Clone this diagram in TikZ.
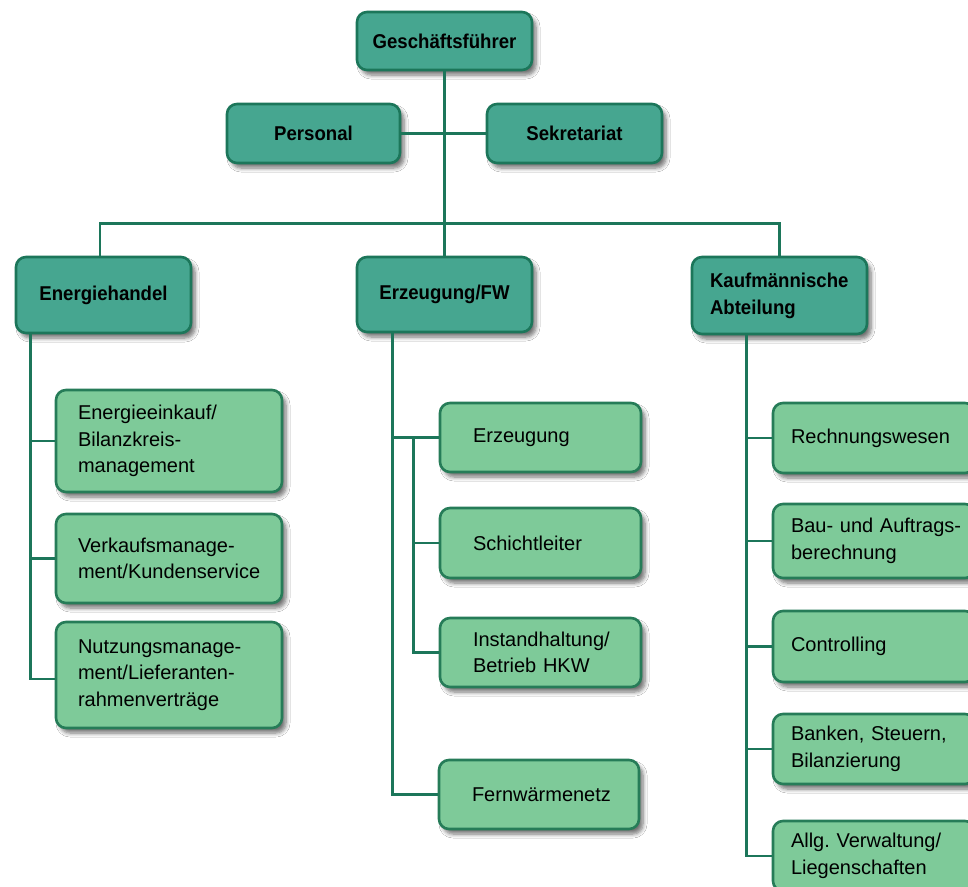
\documentclass[tikz,border=0pt]{standalone}
\usepackage{fontspec}
\setmainfont{Liberation Sans}
\newfontfamily\hdfont{Liberation Sans}[FakeStretch=0.93]
\usetikzlibrary{shadows.blur,calc}
\definecolor{darkfill}{RGB}{70,166,144}
\definecolor{darkline}{RGB}{28,118,90}
\definecolor{lightfill}{RGB}{126,202,153}
\definecolor{lightline}{RGB}{38,124,88}
\definecolor{connc}{RGB}{28,118,90}
\begin{document}
\begin{tikzpicture}[x=1pt,y=-1pt,
 boxbase/.style={rounded corners=10pt, line width=2.6pt, inner sep=0pt,
   blur shadow={shadow xshift=4pt, shadow yshift=-5pt, shadow blur steps=6, shadow opacity=55, shadow blur radius=4pt}},
 headbox/.style={boxbase, draw=darkline, fill=darkfill, font=\hdfont\bfseries\fontsize{20}{27}\selectfont\frenchspacing, align=center},
 subbox/.style={boxbase, draw=lightline, fill=lightfill, font=\fontsize{20}{26.5}\selectfont\frenchspacing, align=left},
 conn/.style={draw=connc, line width=2.8pt},
]
\useasboundingbox (0,0) rectangle (968,886);
\fill[white] (0,0) rectangle (968,886);
\clip (0,0) rectangle (968,886);

% top level
\node[headbox, minimum width=175pt, minimum height=58pt] (gf) at (444.5,41) {Geschäftsführer};
\node[headbox, minimum width=173pt, minimum height=59pt] (pers) at (313.5,133.5) {Personal};
\node[headbox, minimum width=175pt, minimum height=59pt] (sek) at (574.5,133.5) {Sekretariat};
\node[headbox, minimum width=175pt, minimum height=76pt] (eh) at (103.5,295) {Energiehandel};
\node[headbox, minimum width=175pt, minimum height=75pt] (efw) at (444.5,294.5) {Erzeugung/FW};
\node[headbox, minimum width=175pt, minimum height=77pt, align=left, text width=139pt, inner xsep=18pt] (ka) at (779.5,295.5) {\mbox{Kaufmännische}\\Abteilung};

% left column
\node[subbox, minimum width=226pt, text width=182pt, inner xsep=22pt, minimum height=102pt] (e1) at (169,441) {Energieeinkauf/\\Bilanzkreis-\\management};
\node[subbox, minimum width=226pt, text width=182pt, inner xsep=22pt, minimum height=89pt] (e2) at (169,558.5) {Verkaufsmanage-\\ment/Kundenservice};
\node[subbox, minimum width=226pt, text width=182pt, inner xsep=22pt, minimum height=106pt] (e3) at (169,675) {Nutzungsmanage-\\ment/Lieferanten-\\rahmenverträge};

% middle column
\node[subbox, minimum width=201pt, text width=135pt, inner xsep=33pt, minimum height=69pt] (m1) at (540.5,437.5) {Erzeugung};
\node[subbox, minimum width=201pt, text width=135pt, inner xsep=33pt, minimum height=70pt] (m2) at (540.5,543) {Schichtleiter};
\node[subbox, minimum width=201pt, text width=135pt, inner xsep=33pt, minimum height=69pt] (m3) at (540.5,652.5) {\mbox{Instandhaltung/}\\Betrieb HKW};
\node[subbox, minimum width=200pt, text width=134pt, inner xsep=33pt, minimum height=69pt] (m4) at (539,794.5) {Fernwärmenetz};

% right column
\node[subbox, minimum width=202pt, text width=166pt, inner xsep=18pt, minimum height=70pt] (r1) at (874,438) {Rechnungswesen};
\node[subbox, minimum width=202pt, text width=166pt, inner xsep=18pt, minimum height=74pt] (r2) at (874,541) {\mbox{Bau- und Auftrags-}\\berechnung};
\node[subbox, minimum width=202pt, text width=166pt, inner xsep=18pt, minimum height=71pt] (r3) at (874,646.5) {Controlling};
\node[subbox, minimum width=202pt, text width=166pt, inner xsep=18pt, minimum height=70pt] (r4) at (874,749) {Banken, Steuern,\\Bilanzierung};
\node[subbox, minimum width=202pt, text width=166pt, inner xsep=18pt, minimum height=70pt] (r5) at (874,856) {\mbox{Allg. Verwaltung/}\\Liegenschaften};

% connectors
\path (gf.south) ++(0,152) coordinate (bus);
\draw[conn] (gf.south) -- (efw.north);
\draw[conn] (pers.east) -- (sek.west);
\draw[conn] ([xshift=-3.5pt]eh.north) |- (bus) -| (ka.north);

\coordinate (ehs) at ([xshift=16pt]eh.south west);
\draw[conn] (ehs) |- (e1.west);
\draw[conn] (ehs) |- (e2.west);
\draw[conn] (ehs) |- ([yshift=-4pt]e3.west);

\coordinate (efws) at ([xshift=37pt]efw.south west);
\draw[conn] (efws) |- (m1.west);
\draw[conn] (efws) |- (m4.west);
\path (m1.west) ++(-25,0) coordinate (mj);
\draw[conn] (mj) |- (m2.west);
\draw[conn] (mj) |- (m3.west);

\coordinate (kas) at ([xshift=56pt]ka.south west);
\draw[conn] (kas) |- (r1.west);
\draw[conn] (kas) |- (r2.west);
\draw[conn] (kas) |- (r3.west);
\draw[conn] (kas) |- (r4.west);
\draw[conn] (kas) |- (r5.west);
\end{tikzpicture}
\end{document}
